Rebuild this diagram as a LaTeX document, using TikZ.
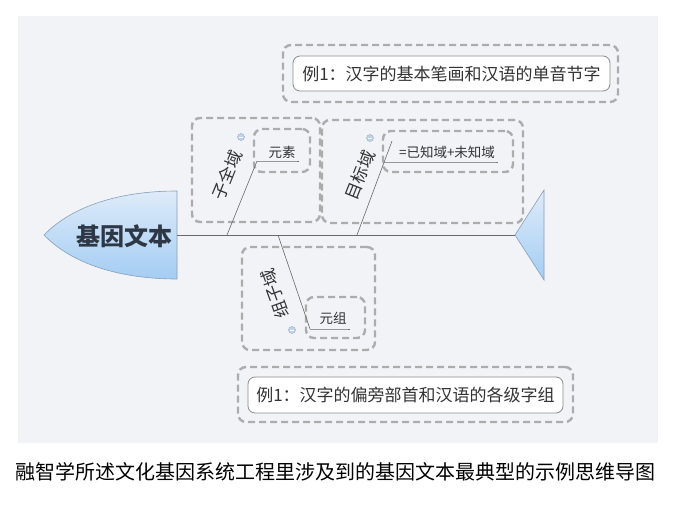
\documentclass[tikz,border=0pt]{standalone}
\usepackage{fontspec}
\setmainfont{Noto Sans CJK SC}
\definecolor{bggray}{RGB}{242,243,247}
\definecolor{boxgray}{RGB}{172,172,172}
\definecolor{linegray}{RGB}{105,105,105}
\definecolor{headtop}{RGB}{222,235,249}
\definecolor{headbot}{RGB}{164,205,243}
\definecolor{headline}{RGB}{135,158,185}
\definecolor{textdark}{RGB}{45,55,70}
\definecolor{dotblue}{RGB}{190,212,238}
\usetikzlibrary{positioning}

\begin{document}
\begin{tikzpicture}[x=1pt,y=-1pt,
    every node/.style={inner sep=0pt,text=black!80},
    dashbox/.style={draw=boxgray,line width=2.4pt,dash pattern=on 7pt off 4pt,rounded corners=8pt},
    examplebox/.style={draw=black!45,fill=white,line width=0.8pt,rounded corners=7pt,
        font=\fontsize{17pt}{18pt}\selectfont},
    bone/.style={draw=linegray,line width=0.6pt},
    bonelabel/.style={font=\fontsize{17pt}{17pt}\selectfont},
    subtopic/.style={font=\fontsize{13.5pt}{14pt}\selectfont},
    collapse/.style={circle,draw=dotblue!80!black,fill=dotblue,line width=0.4pt,minimum size=7pt}
    ]

    \useasboundingbox[fill=white] (0,0) rectangle (680,511);
    \fill[bggray] (18,16) rectangle (658,443);

    % the dashed boxes
    \node[dashbox,minimum width=128pt,minimum height=104pt] (zqbox) at (256,170) {};
    \node[dashbox,minimum width=201pt,minimum height=103pt] (mbbox) at (422.5,171.5) {};
    \node[dashbox,minimum width=133pt,minimum height=103pt] (zzbox) at (308.5,298.5) {};
    \node[dashbox,minimum width=56pt,minimum height=43pt] (yssub) at (282,150.5) {};
    \node[dashbox,minimum width=130pt,minimum height=41pt] (mbsub) at (448,151.5) {};
    \node[dashbox,minimum width=59pt,minimum height=41pt] (yzsub) at (335.5,317.5) {};
    \node[dashbox,minimum width=335pt,minimum height=57pt] (ex1box) at (450.5,73.5) {};
    \node[dashbox,minimum width=335pt,minimum height=55pt] (ex2box) at (405.5,394.5) {};

    % head and tail
    \path[draw=headline,line width=0.6pt,top color=headtop,bottom color=headbot]
        (44,235) .. controls (72,206) and (120,191) .. (177,191) -- (177,279)
        .. controls (120,279) and (72,264) .. cycle;
    \path[draw=headline,line width=0.6pt,top color=headtop,bottom color=headbot]
        (515,235) -- (544,190) -- (544,280) -- cycle;
    \node[font=\fontsize{24pt}{24pt}\selectfont\bfseries,text=textdark] (head) at (124,236) {基因文本};

    \coordinate (neck) at (177,235);
    \coordinate (tailtip) at (515,235);
    \coordinate (zqbase) at (227,235);
    \coordinate (zqtop) at (257,161);
    \coordinate (mbbase) at (357,235);
    \coordinate (mbtop) at (392,141);
    \coordinate (mbcross) at (384,162);
    \coordinate (zzbase) at (278,235);
    \coordinate (zztop) at (310,329);

    % the topics
    \node[bonelabel,rotate=68] (zqy) at (227,175) {子全域};
    \node[bonelabel,rotate=68] (mby) at (360,175) {目标域};
    \node[bonelabel,rotate=110] (zzy) at (275,294) {组子域};
    \node[subtopic] (ys) at (282,152) {元素};
    \node[subtopic] (mbtext) at (447,152) {=已知域+未知域};
    \node[subtopic] (yz) at (333,318) {元组};
    \node[collapse] (c1) at (241,137) {};
    \node[collapse] (c2) at (370,138) {};
    \node[collapse] (c3) at (292,330) {};
    \foreach \c in {c1,c2,c3}
        \draw[white,line width=0.6pt] ([xshift=-1.6pt]\c.center) -- ([xshift=1.6pt]\c.center);

    % the edges
    \draw[bone] (neck) -- (tailtip);
    \draw[bone] (zqbase) -- (zqtop);
    \draw[bone] (zqtop) -- (zqtop -| ys.east) -- ++(3,0);
    \draw[bone] (mbbase) -- (mbtop);
    \draw[bone] (mbcross) -- (mbcross -| mbtext.east) -- ++(3,0);
    \draw[bone] (zzbase) -- (zztop);
    \draw[bone] (zztop) -- (zztop -| yz.east) -- ++(3,0);

    % the examples
    \node[examplebox,minimum width=317pt,minimum height=35pt] (ex1) at (451.5,73.5) {例1：汉字的基本笔画和汉语的单音节字};
    \node[examplebox,minimum width=315pt,minimum height=36pt] (ex2) at (405.5,395) {例1：汉字的偏旁部首和汉语的各级字组};

    \node[font=\fontsize{20pt}{21pt}\selectfont,text=black] (caption) at (336,472)
        {融智学所述文化基因系统工程里涉及到的基因文本最典型的示例思维导图};
\end{tikzpicture}
\end{document}
